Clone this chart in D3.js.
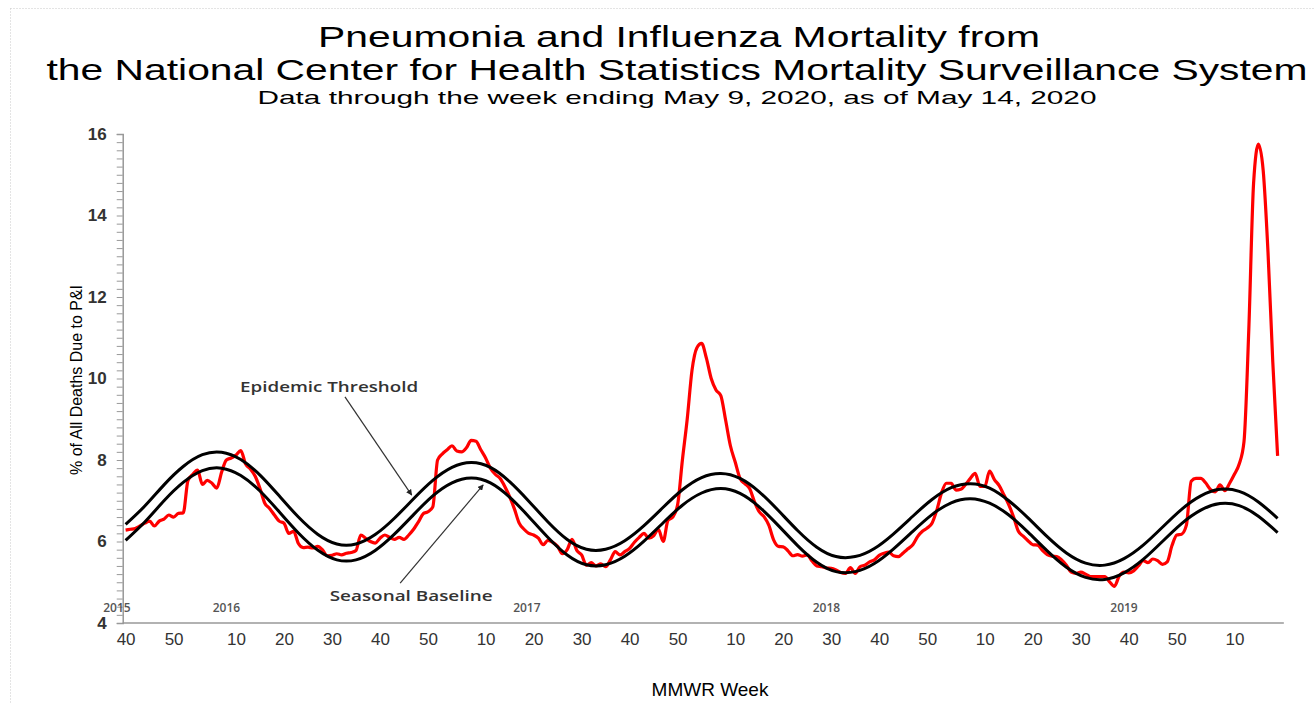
<!DOCTYPE html>
<html>
<head>
<meta charset="utf-8">
<script src="https://cdn.jsdelivr.net/npm/d3@7"></script>
<style>
  body { margin: 0; background: #fff; }
  svg { display: block; font-family: "Liberation Sans", Arial, sans-serif; }
</style>
</head>
<body>
<svg id="chart" width="1314" height="704"></svg>
<script>
// MMWR weeks, starting 2015 week 40
const startYear = 2015, startWeek = 40;
const weeksInYear = {2015: 53, 2016: 52, 2017: 52, 2018: 52, 2019: 52, 2020: 53};

// % of all deaths due to P&I, one value per week
const piPercent = [
  6.28, 6.30, 6.32, 6.38, 6.45, 6.50, 6.38, 6.50, 6.55, 6.65,
  6.60, 6.69, 6.70, 7.50, 7.65, 7.75, 7.40, 7.50, 7.43, 7.31,
  7.70, 8.00, 8.05, 8.12, 8.23, 7.90, 7.78, 7.60, 7.30, 6.94,
  6.81, 6.65, 6.50, 6.45, 6.20, 6.25, 5.95, 5.85, 5.86, 5.84,
  5.88, 5.80, 5.65, 5.66, 5.70, 5.67, 5.71, 5.73, 5.78, 6.16,
  6.08, 6.00, 5.96, 6.08, 6.16, 6.10, 6.05, 6.10, 6.05, 6.16,
  6.30, 6.48, 6.68, 6.73, 6.85, 8.00, 8.15, 8.25, 8.35, 8.22,
  8.20, 8.30, 8.48, 8.46, 8.25, 8.05, 7.80, 7.65, 7.55, 7.35,
  7.10, 6.80, 6.45, 6.30, 6.20, 6.16, 6.08, 5.92, 6.03, 5.98,
  5.88, 5.70, 5.80, 6.05, 5.78, 5.67, 5.42, 5.48, 5.40, 5.45,
  5.38, 5.55, 5.75, 5.67, 5.75, 5.83, 5.98, 6.10, 6.20, 6.08,
  6.14, 6.30, 6.00, 6.52, 6.60, 6.90, 8.00, 9.00, 10.20, 10.75,
  10.86, 10.50, 10.00, 9.72, 9.58, 8.98, 8.35, 7.95, 7.55, 7.42,
  7.30, 6.98, 6.73, 6.61, 6.40, 6.04, 5.88, 5.87, 5.77, 5.65,
  5.68, 5.64, 5.67, 5.52, 5.40, 5.38, 5.35, 5.34, 5.30, 5.24,
  5.22, 5.36, 5.22, 5.38, 5.42, 5.50, 5.55, 5.66, 5.71, 5.74,
  5.65, 5.63, 5.72, 5.82, 5.92, 6.12, 6.25, 6.33, 6.45, 6.77,
  7.20, 7.43, 7.43, 7.26, 7.28, 7.40, 7.55, 7.67, 7.35, 7.35,
  7.73, 7.52, 7.37, 7.14, 6.90, 6.60, 6.25, 6.13, 6.02, 5.92,
  5.91, 5.78, 5.68, 5.64, 5.63, 5.55, 5.42, 5.25, 5.22, 5.25,
  5.20, 5.14, 5.14, 5.14, 5.14, 5.01, 4.90, 5.15, 5.25, 5.23,
  5.28, 5.40, 5.53, 5.48, 5.57, 5.53, 5.44, 5.50, 5.90, 6.16,
  6.18, 6.40, 7.48, 7.55, 7.55, 7.44, 7.28, 7.22, 7.39, 7.25,
  7.43, 7.65, 7.90, 8.45, 11.20, 14.80, 15.75, 15.10, 13.10, 10.40,
  8.10
];

// seasonal baseline and epidemic threshold, read every 4th week
const curveStep = 4;
const baseline = [
  6.03, 6.48, 7.00, 7.45, 7.74, 7.80, 7.62, 7.24, 6.73, 6.21,
  5.79, 5.55, 5.55, 5.78, 6.18, 6.66, 7.12, 7.44, 7.56, 7.44,
  7.09, 6.61, 6.10, 5.67, 5.43, 5.43, 5.64, 6.01, 6.46, 6.89,
  7.19, 7.30, 7.18, 6.85, 6.39, 5.90, 5.49, 5.26, 5.26, 5.46,
  5.82, 6.25, 6.66, 6.95, 7.05, 6.94, 6.65, 6.23, 5.77, 5.37,
  5.12, 5.07, 5.23, 5.56, 6.00, 6.44, 6.77, 6.93, 6.88, 6.62,
  6.22
];
const threshold = [
  6.42, 6.87, 7.39, 7.84, 8.13, 8.19, 8.01, 7.63, 7.12, 6.60,
  6.18, 5.94, 5.94, 6.17, 6.57, 7.05, 7.50, 7.82, 7.94, 7.82,
  7.47, 6.99, 6.48, 6.05, 5.81, 5.81, 6.02, 6.39, 6.84, 7.27,
  7.57, 7.67, 7.55, 7.22, 6.76, 6.27, 5.86, 5.63, 5.63, 5.83,
  6.19, 6.62, 7.03, 7.32, 7.42, 7.31, 7.00, 6.58, 6.12, 5.72,
  5.47, 5.42, 5.58, 5.91, 6.35, 6.79, 7.12, 7.28, 7.23, 6.97,
  6.57
];

const yearLabels = ['2015', '2016', '2017', '2018', '2019'];
const yearLabelWeek = [-1.8, 21, 83.6, 146, 208];

// build week list
const weeks = [];
let yr = startYear, wk = startWeek;
piPercent.forEach((v, i) => {
  weeks.push({i: i, year: yr, week: wk, value: v});
  wk++;
  if (wk > weeksInYear[yr]) { wk = 1; yr++; }
});

const svg = d3.select('#chart');

// dotted frame
svg.append('line').attr('x1', 10.5).attr('y1', 8.5).attr('x2', 1314).attr('y2', 8.5)
  .style('stroke', '#c8c8c8').style('stroke-dasharray', '1,2');
svg.append('line').attr('x1', 10.5).attr('y1', 8.5).attr('x2', 10.5).attr('y2', 704)
  .style('stroke', '#c8c8c8').style('stroke-dasharray', '1,2');

// titles
svg.append('text').attr('x', 679).attr('y', 47).attr('text-anchor', 'middle')
  .attr('textLength', 722).attr('lengthAdjust', 'spacingAndGlyphs')
  .style('font-size', '30px').style('fill', '#000')
  .text('Pneumonia and Influenza Mortality from');
svg.append('text').attr('x', 677).attr('y', 80).attr('text-anchor', 'middle')
  .attr('textLength', 1261).attr('lengthAdjust', 'spacingAndGlyphs')
  .style('font-size', '30px').style('fill', '#000')
  .text('the National Center for Health Statistics Mortality Surveillance System');
svg.append('text').attr('x', 677).attr('y', 104).attr('text-anchor', 'middle')
  .attr('textLength', 839).attr('lengthAdjust', 'spacingAndGlyphs')
  .style('font-size', '19px').style('fill', '#000')
  .text('Data through the week ending May 9, 2020, as of May 14, 2020');

const x = d3.scaleLinear().domain([0, 240]).range([125.6, 1277.6]);
const y = d3.scaleLinear().domain([4, 16]).range([623, 134]);
const axisX0 = x(-0.6), axisX1 = x(241.3);

// y axis
const yAxis = svg.append('g')
  .attr('transform', 'translate(' + axisX0 + ',0)')
  .call(d3.axisLeft(y)
    .tickValues(d3.range(0, 61).map(k => 4 + k * 0.2))
    .tickSize(6)
    .tickPadding(10)
    .tickFormat(d => {
      const r = Math.round(d);
      return (Math.abs(d - r) < 1e-6 && r % 2 === 0) ? r : '';
    }));
yAxis.select('.domain').style('stroke', '#999').style('stroke-width', 1.5);
yAxis.selectAll('.tick line').style('stroke', '#999');
yAxis.selectAll('.tick text')
  .style('font-size', '17px').style('font-weight', 'bold').style('fill', '#333')
  .style('font-family', '"Liberation Sans", Arial, sans-serif');

// x axis
const xAxis = svg.append('g')
  .attr('transform', 'translate(0,' + y(4) + ')')
  .call(d3.axisBottom(x)
    .tickValues(weeks.filter(d => d.week % 10 === 0).map(d => d.i))
    .tickSize(0)
    .tickPadding(10)
    .tickFormat(i => weeks[i].week));
xAxis.select('.domain').remove();
xAxis.selectAll('.tick text')
  .style('font-size', '17px').style('fill', '#333')
  .style('font-family', '"Liberation Sans", Arial, sans-serif');
svg.append('line')
  .attr('x1', axisX0).attr('x2', axisX1)
  .attr('y1', y(4)).attr('y2', y(4))
  .style('stroke', '#999').style('stroke-width', 1.5);

// year labels
yearLabels.forEach((t, k) => {
  svg.append('text')
    .attr('x', x(yearLabelWeek[k])).attr('y', y(4) - 11)
    .attr('text-anchor', 'middle')
    .style('font-family', '"Open Sans", "DejaVu Sans", sans-serif')
    .style('font-size', '12px').style('font-weight', 600).style('fill', '#555')
    .text(t);
});

// axis titles
svg.append('text')
  .attr('transform', 'translate(82,380) rotate(-90)')
  .attr('text-anchor', 'middle')
  .attr('textLength', 190).attr('lengthAdjust', 'spacingAndGlyphs')
  .style('font-size', '16px').style('fill', '#000')
  .text('% of All Deaths Due to P&I');
svg.append('text')
  .attr('x', 710).attr('y', 696).attr('text-anchor', 'middle')
  .style('font-size', '19px').style('fill', '#000')
  .text('MMWR Week');

// curves
const curvePts = vals => vals.map((v, k) => ({i: k * curveStep, value: v}));
const line = d3.line()
  .x(d => x(d.i))
  .y(d => y(d.value));

svg.append('path')
  .datum(weeks)
  .attr('d', line.curve(d3.curveMonotoneX))
  .style('fill', 'none').style('stroke', '#ff0000').style('stroke-width', 3.2)
  .style('stroke-linejoin', 'round');

[baseline, threshold].forEach(vals => {
  svg.append('path')
    .datum(curvePts(vals))
    .attr('d', line.curve(d3.curveNatural))
    .style('fill', 'none').style('stroke', '#000').style('stroke-width', 3);
});

// annotations
const defs = svg.append('defs');
defs.append('marker')
  .attr('id', 'arrow').attr('viewBox', '0 0 10 10')
  .attr('refX', 9).attr('refY', 5)
  .attr('markerWidth', 5).attr('markerHeight', 5)
  .attr('orient', 'auto')
  .append('path').attr('d', 'M0,0L10,5L0,10z').style('fill', '#222');

const notes = [
  {text: 'Epidemic Threshold', tx: 42.4, ty: 9.79, len: 178, x1: 45.7, y1: 9.55, x2: 59.6, y2: 7.14},
  {text: 'Seasonal Baseline', tx: 59.5, ty: 4.66, len: 163, x1: 57.2, y1: 4.98, x2: 74.5, y2: 7.39}
];
notes.forEach(n => {
  svg.append('line')
    .attr('x1', x(n.x1)).attr('y1', y(n.y1))
    .attr('x2', x(n.x2)).attr('y2', y(n.y2))
    .style('stroke', '#333').style('stroke-width', 1.2)
    .attr('marker-end', 'url(#arrow)');
  svg.append('text')
    .attr('x', x(n.tx)).attr('y', y(n.ty)).attr('dy', '.35em')
    .attr('text-anchor', 'middle')
    .attr('textLength', n.len).attr('lengthAdjust', 'spacingAndGlyphs')
    .style('font-family', '"Open Sans", "DejaVu Sans", sans-serif')
    .style('font-size', '14px').style('font-weight', 600).style('fill', '#333')
    .text(n.text);
});
</script>
</body>
</html>
